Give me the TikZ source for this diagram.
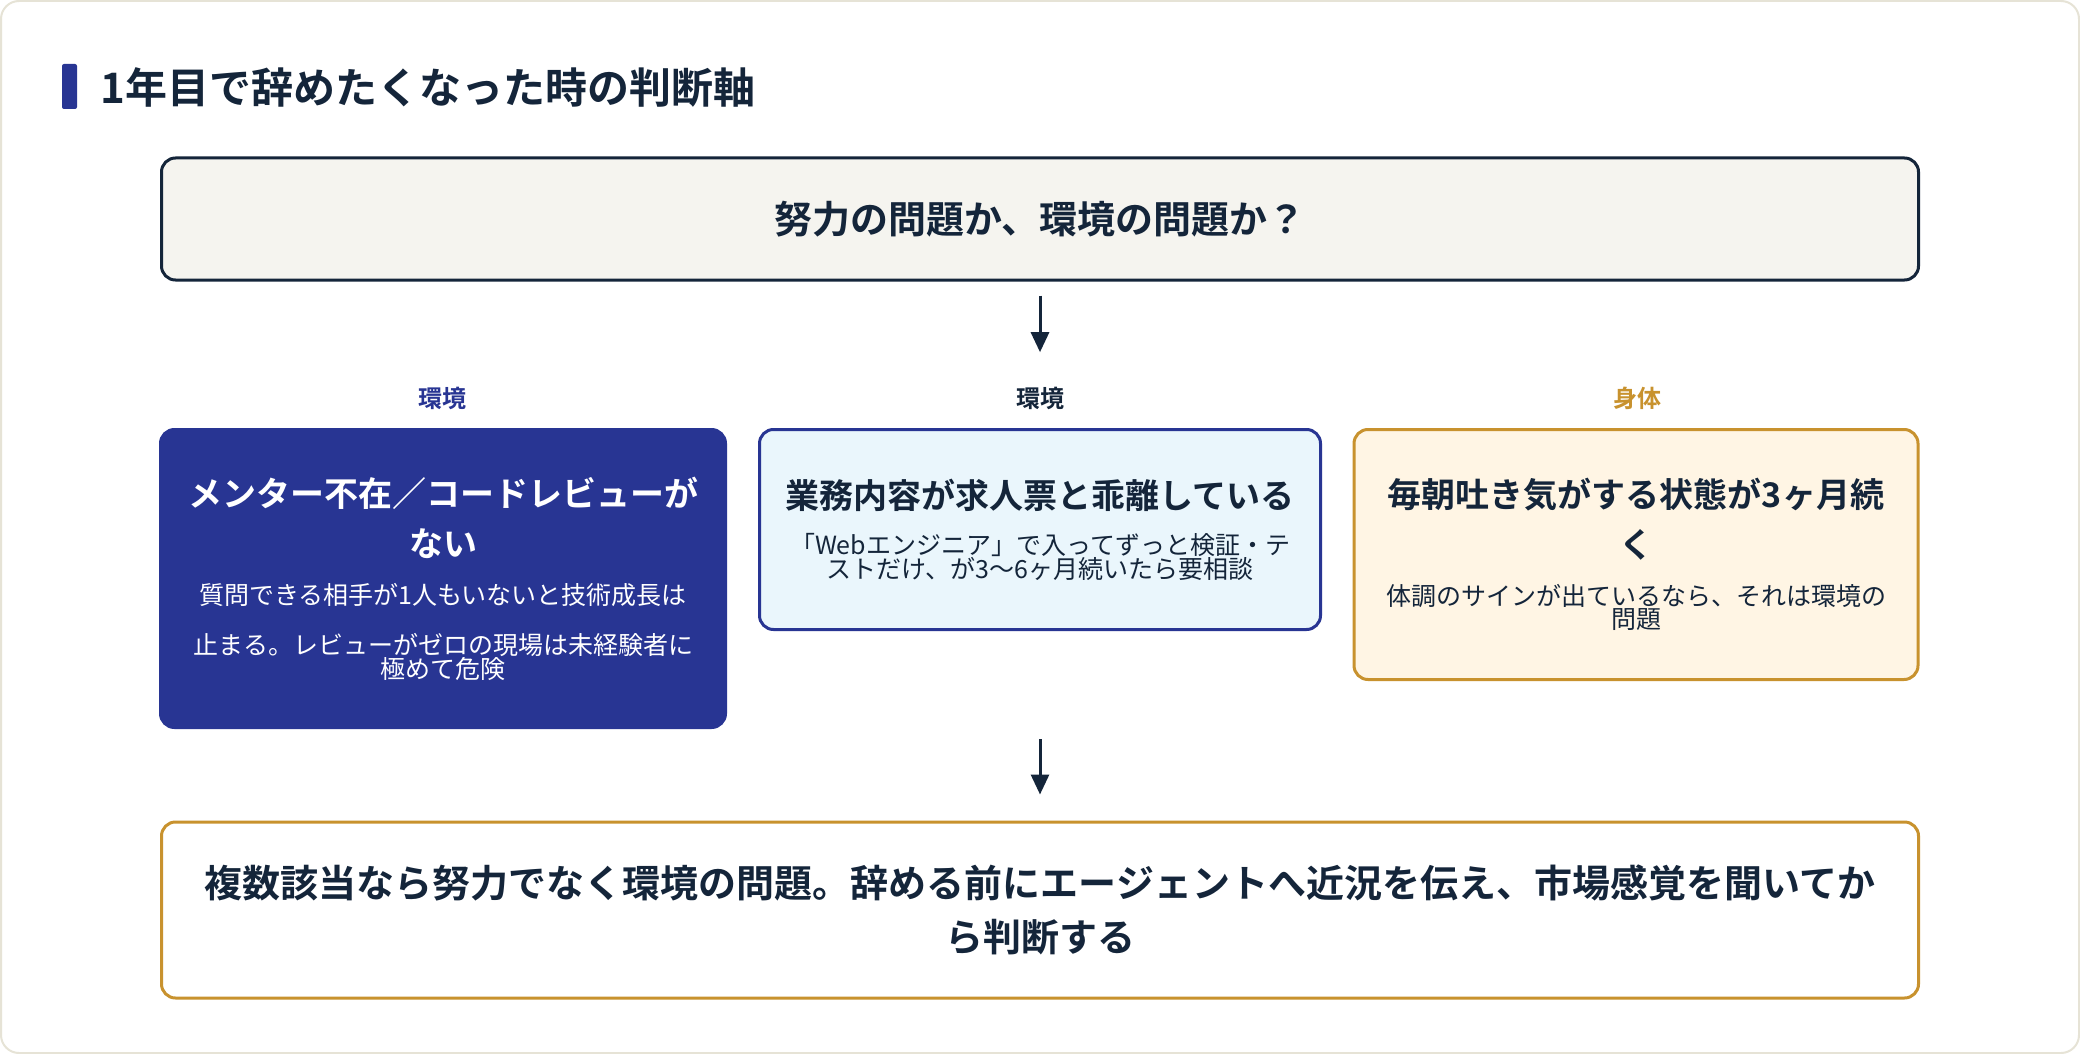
\documentclass[tikz,border=0pt]{standalone}
\usepackage{fontspec}
\setmainfont{Noto Sans CJK JP}[BoldFont={Noto Sans CJK JP Bold}]
\usetikzlibrary{positioning,arrows.meta}
\definecolor{ink}{HTML}{14253A}
\definecolor{navy}{HTML}{283593}
\definecolor{gold}{HTML}{C8922E}
\definecolor{paper}{HTML}{F5F4EF}
\definecolor{skyfill}{HTML}{EAF6FC}
\definecolor{creamfill}{HTML}{FFF5E4}
\definecolor{frame}{HTML}{E6E3D6}
\tikzset{
  box/.style={draw, rounded corners=14pt, line width=3pt, align=center, inner sep=0pt},
  card/.style={box, text width=550pt, anchor=north},
  lbl/.style={font=\fontsize{24}{28}\selectfont\bfseries},
  arr/.style={-{Triangle[length=20pt,width=18pt]}, line width=3pt, ink},
}
\newcommand{\headsz}{\fontsize{34}{50}\selectfont\bfseries}
\newcommand{\bodysz}{\fontsize{25}{50}\selectfont\mdseries}
\begin{document}
\begin{tikzpicture}[x=1pt,y=-1pt]
				\draw[frame, line width=2pt, rounded corners=18pt, fill=white] (1,1) rectangle (2079,1053);

				% Title
				\fill[navy, rounded corners=2pt] (62,64) rectangle (77,109);
				\node[anchor=west, text=ink, font=\fontsize{42}{46}\selectfont\bfseries] (title) at (97,87) {1年目で辞めたくなった時の判断軸};

				% Question
				\node[box, draw=ink, fill=paper, text=ink, minimum width=1757pt, minimum height=122pt, font=\fontsize{38}{44}\selectfont\bfseries] (question) at (1040,219) {努力の問題か、環境の問題か？};

				% Labels
				\node[lbl, text=navy] (lblmentor) at (442,398) {環境};
				\node[lbl, text=ink] (lbltask) at (1040,398) {環境};
				\node[lbl, text=gold] (lblbody) at (1637,398) {身体};

				\draw[arr, shorten <=14pt, shorten >=31pt] (question) -- (lbltask);

				% Cases
				\node[card, draw=navy, fill=navy, text=white, minimum width=565pt, minimum height=298pt] (mentor) at (443,428) {\headsz メンター不在／コードレビューが\\ない\\[-2pt] \bodysz 質問できる相手が1人もいないと技術成長は\\止まる。レビューがゼロの現場は未経験者に\\極めて危険};
				\node[card, draw=navy, fill=skyfill, text=ink, minimum width=561pt, minimum height=200pt] (task) at (1040,428) {\headsz 業務内容が求人票と乖離している\\[-4pt] \bodysz 「Webエンジニア」で入ってずっと検証・テ\\ストだけ、が3〜6ヶ月続いたら要相談};
				\node[card, draw=gold, fill=creamfill, text=ink, minimum width=564pt, minimum height=250pt] (body) at (1636,428) {\headsz 毎朝吐き気がする状態が3ヶ月続\\く\\[-2pt] \bodysz 体調のサインが出ているなら、それは環境の\\問題};

				% Conclusion
				\node[box, draw=gold, fill=white, text=ink, minimum width=1757pt, minimum height=176pt, text width=1700pt, font=\fontsize{38}{54}\selectfont\bfseries] (verdict) at (1040,910) {複数該当なら努力でなく環境の問題。辞める前にエージェントへ近況を伝え、市場感覚を聞いてか\\ら判断する};
				\coordinate (split) at (1040,739);
				\draw[arr, shorten >=26pt] (split) -- (verdict);
			\end{tikzpicture}
\end{document}
